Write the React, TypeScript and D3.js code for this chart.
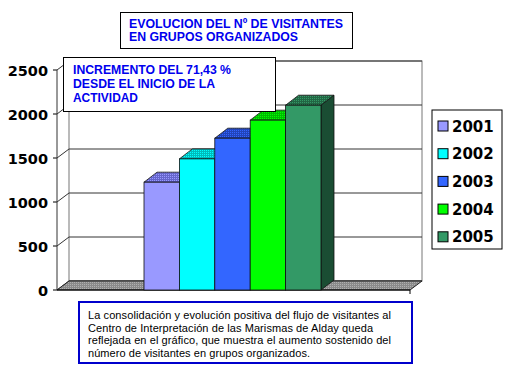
import React from 'react';
import * as d3 from 'd3';

const W = 510;
const H = 374;

// data
const years = ['2001', '2002', '2003', '2004', '2005'];
const visitors = [1225, 1490, 1725, 1930, 2100];
const yTicks = [0, 500, 1000, 1500, 2000, 2500];

const frontColors = ['#9999ff', '#00ffff', '#3366ff', '#00ff00', '#339966'];
const topColors = ['#6666cc', '#00bbbb', '#2244bb', '#00bb00', '#226644'];
const sideColors = ['#555599', '#008888', '#1a3399', '#008800', '#1a4d33'];

const titleLines = ['EVOLUCION DEL Nº DE VISITANTES', 'EN GRUPOS ORGANIZADOS'];
const titleWidths = [214, 169];
const noteLines = ['INCREMENTO DEL 71,43 %', 'DESDE EL INICIO DE LA', 'ACTIVIDAD'];
const noteWidths = [158, 142, 65];
const textLines = [
  'La consolidación y evolución positiva del flujo de visitantes al',
  'Centro de Interpretación de las Marismas de Alday queda',
  'reflejada en el gráfico, que muestra el aumento sostenido del',
  'número de visitantes en grupos organizados.',
];
const textWidths = [303, 285, 303, 222];

// wall depth
const wdx = 12;
const wdy = -9;
// bar depth
const bdx = 13;
const bdy = -10;

const App = () => {
  const y = d3.scaleLinear().domain([0, 2500]).range([290, 70]);
  const x = d3.scaleBand().domain(years).range([144, 321]).padding(0);
  const x0 = 57;
  const x1 = 410;
  const bw = x.bandwidth();

  return (
    <svg width={W} height={H} style={{ position: 'absolute', left: 0, top: 0 }}
      fontFamily="'Liberation Sans', Arial, sans-serif">
      <defs>
        <pattern id="floorPat" width="2" height="2" patternUnits="userSpaceOnUse">
          <rect width="2" height="2" fill="#8a8a8a" />
          <rect width="1" height="1" fill="#b0b0b0" />
        </pattern>
        {years.map((yr, i) => (
          <pattern key={yr} id={`top${i}`} width="2" height="2" patternUnits="userSpaceOnUse">
            <rect width="2" height="2" fill={topColors[i]} />
            <rect width="1" height="1" fill={frontColors[i]} />
          </pattern>
        ))}
      </defs>
      <rect width={W} height={H} fill="#fff" />

      {/* back wall */}
      <rect x={x0 + wdx} y={y(2500) + wdy} width={x1 - x0} height={y(0) - y(2500)}
        fill="#fff" stroke="#777" />
      {yTicks.map(t => (
        <g key={t}>
          <line x1={x0 + wdx} x2={x1 + wdx} y1={y(t) + wdy} y2={y(t) + wdy} stroke="#333" />
          <line x1={x0} x2={x0 + wdx} y1={y(t)} y2={y(t) + wdy} stroke="#333" />
          <line x1={x0 - 4} x2={x0} y1={y(t)} y2={y(t)} stroke="#000" />
          <text x={48} y={y(t) + 5.5} textAnchor="end" fontFamily="'DejaVu Sans', sans-serif"
            fontWeight="bold" fontSize={14.5}>{t}</text>
        </g>
      ))}
      <line x1={x0} x2={x0} y1={y(0)} y2={y(2500)} stroke="#333" />

      {/* floor */}
      <polygon
        points={`${x0},${y(0)} ${x1},${y(0)} ${x1 + wdx},${y(0) + wdy} ${x0 + wdx},${y(0) + wdy}`}
        fill="url(#floorPat)" stroke="#222" />
      <line x1={x0} x2={x1} y1={y(0)} y2={y(0)} stroke="#000" />
      <line x1={x1} x2={x1} y1={y(0)} y2={y(0) + 4} stroke="#000" />

      {/* bars */}
      {years.map((yr, i) => {
        const bx = x(yr) as number;
        const top = y(visitors[i]);
        const bot = y(0);
        return (
          <g key={yr} stroke="#111" strokeWidth={0.8}>
            <polygon
              points={`${bx + bw},${bot} ${bx + bw + bdx},${bot + bdy} ${bx + bw + bdx},${top + bdy} ${bx + bw},${top}`}
              fill={sideColors[i]} />
            <polygon
              points={`${bx},${top} ${bx + bdx},${top + bdy} ${bx + bw + bdx},${top + bdy} ${bx + bw},${top}`}
              fill={`url(#top${i})`} />
            <rect x={bx} y={top} width={bw} height={bot - top} fill={frontColors[i]} />
          </g>
        );
      })}

      {/* legend */}
      <rect x={432} y={110} width={70} height={139} fill="#fff" stroke="#000" />
      {years.map((yr, i) => {
        const cy = 126 + i * 27.7;
        return (
          <g key={yr}>
            <rect x={438} y={cy - 5} width={10} height={10} fill={frontColors[i]} stroke="#000" />
            <text x={452} y={cy + 5.5} fontFamily="'DejaVu Sans', sans-serif" fontWeight="bold"
              fontSize={15}>{yr}</text>
          </g>
        );
      })}

      {/* title */}
      <rect x={120.5} y={12.5} width={232} height={36} fill="#fff" stroke="#000" />
      {titleLines.map((l, i) => (
        <text key={l} x={129} y={28 + i * 12.5} fill="#0000ee" fontWeight="bold" fontSize={12}
          textLength={titleWidths[i]} lengthAdjust="spacingAndGlyphs">{l}</text>
      ))}

      {/* annotation */}
      <rect x={63.5} y={57.5} width={212} height={54} fill="#fff" stroke="#000" />
      {noteLines.map((l, i) => (
        <text key={l} x={73} y={74 + i * 14} fill="#0000ee" fontWeight="bold" fontSize={12}
          textLength={noteWidths[i]} lengthAdjust="spacingAndGlyphs">{l}</text>
      ))}

      {/* bottom text */}
      <rect x={79} y={302} width={333} height={61} fill="#fff" stroke="#0000cc" strokeWidth={2} />
      {textLines.map((l, i) => (
        <text key={l} x={88} y={319 + i * 12.5} fill="#000" fontSize={11}
          textLength={textWidths[i]} lengthAdjust="spacing">{l}</text>
      ))}
    </svg>
  );
};

export default App;
